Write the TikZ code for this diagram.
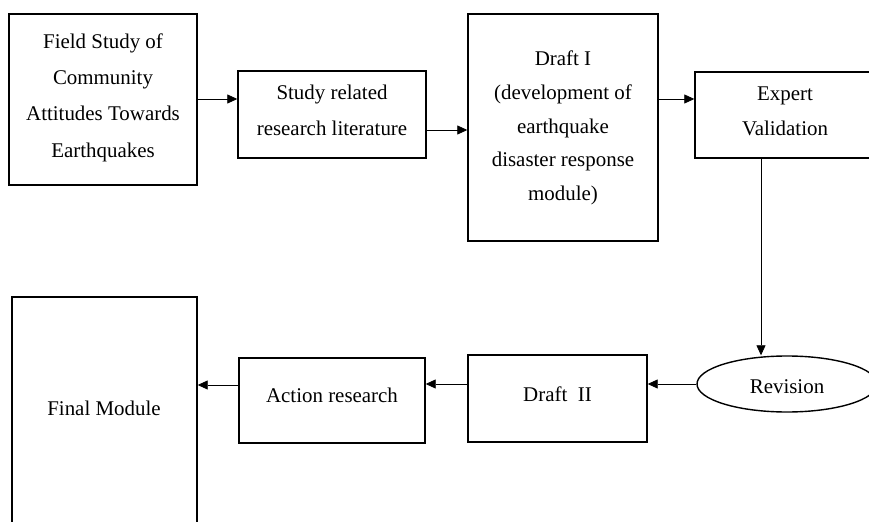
\documentclass[tikz,border=0pt]{standalone}
\usepackage{fontspec}
\setmainfont{Liberation Serif}
\usetikzlibrary{arrows.meta,shapes.geometric}
\begin{document}
\begin{tikzpicture}[x=1bp,y=-1bp,
  box/.style={draw,line width=1.4bp,inner sep=0pt},
  oval/.style={draw,ellipse,line width=1.4bp,inner sep=0pt},
  txt/.style={align=center,inner sep=0pt,font=\fontsize{21}{#1}\selectfont},
  txt/.default=36,
  arr/.style={line width=0.8bp,-{Triangle[length=10bp,width=9bp]}}]
\useasboundingbox[fill=white] (0,0) rectangle (869,522);
\node[box,minimum width=188bp,minimum height=171bp] (b1) at (103,99.5) {};
\node[txt=36.5] (t1) at (103,97.5) {Field Study of\\Community\\Attitudes Towards\\Earthquakes};
\node[box,minimum width=188bp,minimum height=87bp] (b2) at (332,114.5) {};
\node[txt=36] (t2) at (332,110) {Study related\\research literature};
\node[box,minimum width=190bp,minimum height=227bp] (b3) at (563,127.5) {};
\node[txt=33.7] (t3) at (563,128) {Draft I\\(development of\\earthquake\\disaster response\\module)};
\node[box,minimum width=180bp,minimum height=86bp] (b4) at (785,115) {};
\node[txt=35] (t4) at (785,111) {Expert\\Validation};
\node[oval,minimum width=180bp,minimum height=56bp] (rev) at (787,384) {};
\node[txt] (t5) at (787,386.5) {Revision};
\node[box,minimum width=179bp,minimum height=87bp] (d2) at (557.5,398.5) {};
\node[txt] (t6) at (557.5,394.5) {Draft\ \ II};
\node[box,minimum width=186bp,minimum height=85bp] (act) at (332,400.5) {};
\node[txt] (t7) at (332,395.5) {Action research};
\node[box,minimum width=185bp,minimum height=231bp] (fin) at (104.5,412.5) {};
\node[txt] (t8) at (104,408) {Final Module};
\draw[arr] ([yshift=0.5bp]b1.east) -- ([yshift=0.5bp]b1.east -| b2.west);
\draw[arr] ([yshift=-15.5bp]b2.east) -- ([yshift=-15.5bp]b2.east -| b3.west);
\draw[arr] ([yshift=0.5bp]b1.east -| b3.east) -- ([yshift=0.5bp]b1.east -| b4.west);
\draw[arr] ([xshift=-24bp]b4.south) -- ([xshift=-24bp]b4.south |- rev.north);
\draw[arr] (rev.west) -- (rev.west -| d2.east);
\draw[arr] (rev.west -| d2.west) -- (rev.west -| act.east);
\draw[arr] ([yshift=-1bp]rev.west -| act.west) -- ([yshift=-1bp]rev.west -| fin.east);
\end{tikzpicture}
\end{document}
